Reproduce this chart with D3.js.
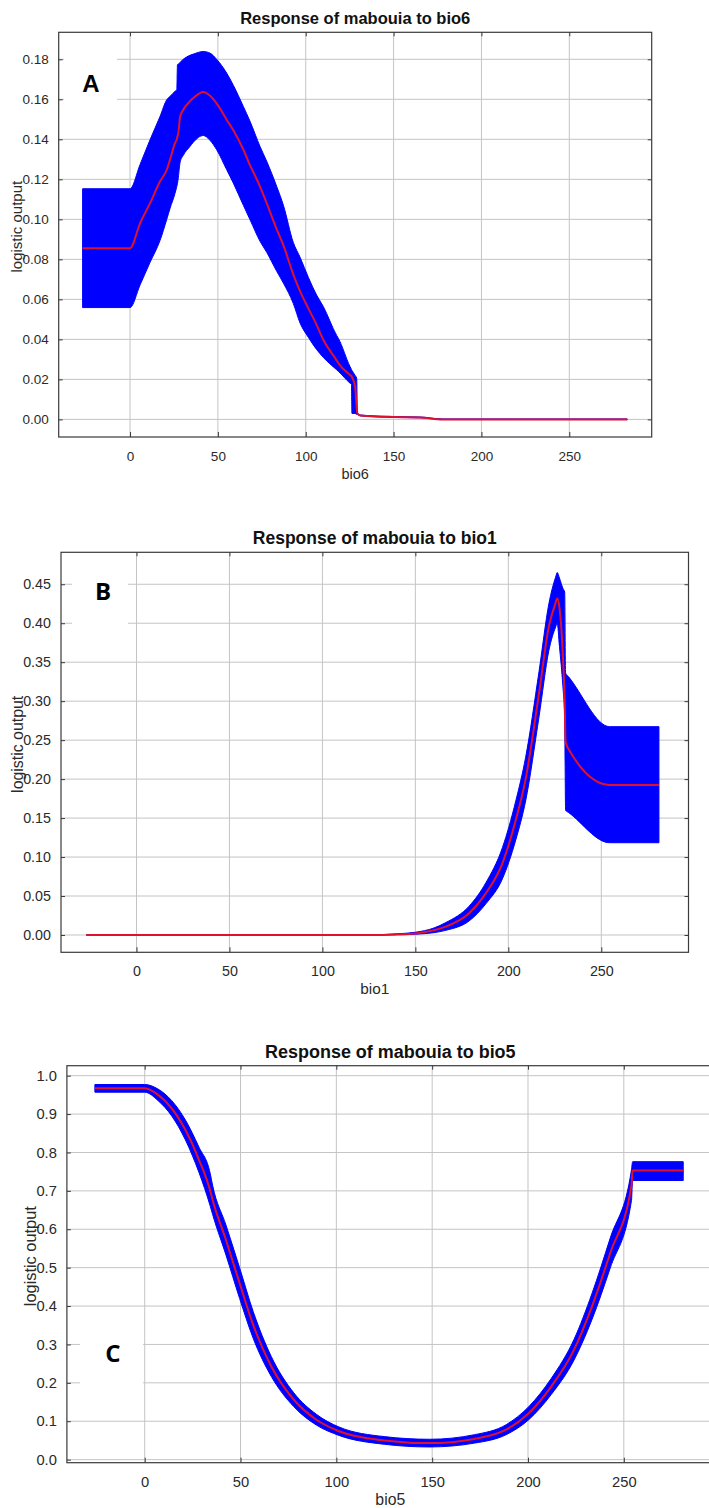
<!DOCTYPE html>
<html>
<head>
<meta charset="utf-8">
<script src="https://cdn.jsdelivr.net/npm/d3@7"></script>
<style>
  body { margin: 0; background: #fff; }
  svg { display: block; }
</style>
</head>
<body>
<div id="chart"></div>
<script>
// shared x ticks
const xTicks = [0, 50, 100, 150, 200, 250];

// panel A : bio6
const bio6X    = [-27, 0, 5.7, 11.4, 17.1, 20.9, 22.8, 25.6, 26.6, 27.0, 27.5, 28.5, 30.3, 34.1, 36, 41.7, 45.5, 49.3, 55, 58.8, 64.5, 68.3, 74, 77.8, 83.5, 87.3, 92.9, 96.8, 101.5, 106.3, 110, 117.6, 118.6, 125.2, 126.0, 126.3, 128.1, 129, 129.4, 131, 150, 165, 178, 220, 283];
const bio6Mean = [0.0856, 0.0856, 0.098, 0.1081, 0.119, 0.1248, 0.130, 0.1381, 0.140, 0.1415, 0.1431, 0.1514, 0.1548, 0.159, 0.1606, 0.1636, 0.1618, 0.158, 0.1498, 0.1445, 0.1348, 0.127, 0.1164, 0.108, 0.095, 0.087, 0.0725, 0.064, 0.0555, 0.047, 0.0398, 0.0295, 0.0281, 0.0222, 0.0216, 0.0212, 0.0164, 0.006, 0.003, 0.002, 0.0012, 0.001, 0, 0, 0];
const bio6Lo   = [0.0559, 0.0559, 0.0672, 0.0785, 0.0895, 0.100, 0.1056, 0.113, 0.1164, 0.118, 0.121, 0.1285, 0.132, 0.1364, 0.1385, 0.1419, 0.1395, 0.1348, 0.1248, 0.1181, 0.107, 0.0998, 0.089, 0.0835, 0.074, 0.0681, 0.058, 0.0481, 0.041, 0.0348, 0.031, 0.0248, 0.024, 0.0181, 0.0175, 0.003, 0.003, 0.0025, 0.0025, 0.0018, 0.001, 0.0008, 0, 0, 0];
const bio6Hi   = [0.1153, 0.1153, 0.1274, 0.1398, 0.1515, 0.1598, 0.1615, 0.164, 0.1648, 0.1773, 0.1776, 0.1785, 0.180, 0.182, 0.1826, 0.1839, 0.1831, 0.180, 0.1731, 0.167, 0.1564, 0.149, 0.1364, 0.129, 0.1164, 0.107, 0.0885, 0.081, 0.071, 0.062, 0.0564, 0.042, 0.0405, 0.0264, 0.025, 0.0245, 0.022, 0.0206, 0.003, 0.0022, 0.0014, 0.0012, 0.0002, 0.0002, 0.0002];
const bio6YTicks = [0, 0.02, 0.04, 0.06, 0.08, 0.10, 0.12, 0.14, 0.16, 0.18];

// panel B : bio1
const bio1X    = [-27, 100, 128, 140, 150, 160, 166.4, 178.9, 187.9, 196.8, 204, 209.3, 216.5, 221.8, 225.4, 226.3, 227.5, 229.3, 230.3, 230.8, 232.5, 254.5, 281];
const bio1Mean = [0, 0, 0, 0.0008, 0.002, 0.006, 0.0107, 0.0278, 0.0535, 0.092, 0.1476, 0.20, 0.31, 0.396, 0.426, 0.432, 0.42, 0.36, 0.30, 0.248, 0.238, 0.1925, 0.1925];
const bio1Lo   = [0, 0, 0, 0.0003, 0.001, 0.003, 0.006, 0.018, 0.040, 0.072, 0.122, 0.172, 0.28, 0.365, 0.395, 0.40, 0.37, 0.32, 0.28, 0.160, 0.157, 0.1184, 0.1184];
const bio1Hi   = [0, 0, 0.0003, 0.0015, 0.0035, 0.009, 0.016, 0.037, 0.067, 0.112, 0.172, 0.228, 0.338, 0.425, 0.459, 0.465, 0.458, 0.445, 0.44, 0.336, 0.331, 0.2673, 0.2673];
const bio1YTicks = [0, 0.05, 0.10, 0.15, 0.20, 0.25, 0.30, 0.35, 0.40, 0.45];

// panel C : bio5
const bio5X    = [-26, 0, 7, 14.1, 21.2, 28.3, 34.2, 35.4, 42.4, 49.5, 56.6, 66, 77.8, 89.6, 101.4, 125, 148.6, 172.1, 188.6, 200.4, 212.2, 224, 233.4, 242.9, 254, 254.6, 281];
const bio5Mean = [0.967, 0.967, 0.95, 0.915, 0.859, 0.781, 0.700, 0.677, 0.572, 0.46, 0.351, 0.243, 0.156, 0.104, 0.074, 0.050, 0.043, 0.054, 0.078, 0.121, 0.191, 0.286, 0.399, 0.538, 0.715, 0.753, 0.753];
const bio5Lo   = [0.957, 0.957, 0.935, 0.895, 0.833, 0.748, 0.660, 0.639, 0.533, 0.420, 0.316, 0.217, 0.138, 0.090, 0.063, 0.040, 0.033, 0.043, 0.065, 0.104, 0.170, 0.259, 0.365, 0.499, 0.675, 0.727, 0.727];
const bio5Hi   = [0.977, 0.977, 0.965, 0.935, 0.885, 0.814, 0.745, 0.715, 0.611, 0.500, 0.386, 0.269, 0.174, 0.118, 0.085, 0.060, 0.053, 0.065, 0.091, 0.138, 0.212, 0.313, 0.433, 0.577, 0.755, 0.776, 0.776];
const bio5YTicks = [0, 0.1, 0.2, 0.3, 0.4, 0.5, 0.6, 0.7, 0.8, 0.9, 1.0];

const W = 709, H = 1508;
const svg = d3.select('#chart').append('svg')
    .attr('width', W)
    .attr('height', H);

svg.append('rect').attr('width', W).attr('height', H).attr('fill', '#fff');

const panels = [
  {id: 'a', title: 'Response of mabouia to bio6', xLabel: 'bio6', letter: 'A', letterFont: 'Liberation Sans, Arial, sans-serif',
   xs: bio6X, mean: bio6Mean, lo: bio6Lo, hi: bio6Hi, yTicks: bio6YTicks, yFmt: '.2f',
   yDomain: [-0.0088, 0.1935], left: 58.7, right: 651.7, top: 32.3, bottom: 437, fs: 1,
   box: [64, 53, 53, 48], letterX: 91, letterY: 92, yLabelX: 22},
  {id: 'b', title: 'Response of mabouia to bio1', xLabel: 'bio1', letter: 'B', letterFont: 'Open Sans, sans-serif',
   xs: bio1X, mean: bio1Mean, lo: bio1Lo, hi: bio1Hi, yTicks: bio1YTicks, yFmt: '.2f',
   yDomain: [-0.0222, 0.491], left: 61, right: 688.5, top: 552.3, bottom: 952.3, fs: 1.06,
   box: [72, 556, 56, 70], letterX: 103, letterY: 600, yLabelX: 23},
  {id: 'c', title: 'Response of mabouia to bio5', xLabel: 'bio5', letter: 'C', letterFont: 'Open Sans, sans-serif',
   xs: bio5X, mean: bio5Mean, lo: bio5Lo, hi: bio5Hi, yTicks: bio5YTicks, yFmt: '.1f',
   yDomain: [-0.008, 1.026], left: 66.9, right: 713.7, top: 1065.7, bottom: 1462.7, fs: 1.09,
   box: [80, 1322, 63, 63], letterX: 113, letterY: 1362, yLabelX: 36}
];

const xDomain = [-40.6, 296.9];
const font = 'Liberation Sans, Arial, sans-serif';

panels.forEach((p) => {
  const x = d3.scaleLinear().domain(xDomain).range([p.left, p.right]);
  const y = d3.scaleLinear().domain(p.yDomain).range([p.bottom, p.top]);
  const pts = p.xs.map((v, i) => ({x: v, m: p.mean[i], lo: p.lo[i], hi: p.hi[i]}));
  const g = svg.append('g');

  g.append('clipPath').attr('id', 'clip-' + p.id)
    .append('rect')
    .attr('x', p.left).attr('y', p.top)
    .attr('width', p.right - p.left).attr('height', p.bottom - p.top);

  // grid
  g.selectAll('.vg').data(xTicks).enter().append('line')
    .attr('x1', (d) => x(d)).attr('x2', (d) => x(d))
    .attr('y1', p.top).attr('y2', p.bottom)
    .attr('stroke', '#c4c4c4').attr('stroke-width', 1);
  g.selectAll('.hg').data(p.yTicks).enter().append('line')
    .attr('x1', p.left).attr('x2', p.right)
    .attr('y1', (d) => y(d)).attr('y2', (d) => y(d))
    .attr('stroke', '#c4c4c4').attr('stroke-width', 1);

  // white box behind the panel letter
  g.append('rect')
    .attr('x', p.box[0]).attr('y', p.box[1])
    .attr('width', p.box[2]).attr('height', p.box[3])
    .attr('fill', '#fff');

  const plot = g.append('g').attr('clip-path', 'url(#clip-' + p.id + ')');

  const band = d3.area()
    .curve(d3.curveMonotoneX)
    .x((d) => x(d.x))
    .y0((d) => y(d.lo))
    .y1((d) => y(d.hi));
  plot.append('path').datum(pts)
    .attr('d', band)
    .attr('fill', '#0000ff')
    .attr('stroke', '#0000ff')
    .attr('stroke-width', 1);

  const line = d3.line().curve(d3.curveMonotoneX).x((d) => x(d.x)).y((d) => y(d.m));
  plot.append('path').datum(pts)
    .attr('d', line)
    .attr('fill', 'none')
    .attr('stroke', '#e0102f')
    .attr('stroke-width', 2);

  // frame
  g.append('rect')
    .attr('x', p.left).attr('y', p.top)
    .attr('width', p.right - p.left).attr('height', p.bottom - p.top)
    .attr('fill', 'none').attr('stroke', '#3a3a3a').attr('stroke-width', 1.2);

  // axes (ticks point inwards, labels outside)
  const yAxis = d3.axisLeft(y).tickValues(p.yTicks).tickFormat(d3.format(p.yFmt))
    .tickSizeInner(-4).tickSizeOuter(0).tickPadding(10);
  const ya = g.append('g').attr('transform', `translate(${p.left},0)`).call(yAxis);
  const xAxis = d3.axisBottom(x).tickValues(xTicks).tickFormat(d3.format('d'))
    .tickSizeInner(-5).tickSizeOuter(0).tickPadding(14);
  const xa = g.append('g').attr('transform', `translate(0,${p.bottom})`).call(xAxis);
  const yr = g.append('g').attr('transform', `translate(${p.right},0)`)
    .call(d3.axisRight(y).tickValues(p.yTicks).tickSize(-4).tickFormat(''));
  const xt = g.append('g').attr('transform', `translate(0,${p.top})`)
    .call(d3.axisTop(x).tickValues(xTicks).tickSize(-4).tickFormat(''));
  [ya, xa, yr, xt].forEach((a) => {
    a.select('.domain').remove();
    a.selectAll('line').attr('stroke', '#3a3a3a');
    a.selectAll('text').attr('fill', '#2a2a2a')
      .style('font-family', font).style('font-size', (13.5 * p.fs) + 'px');
  });

  // texts
  g.append('text')
    .attr('x', (p.left + p.right) / 2).attr('y', p.top - 8)
    .attr('text-anchor', 'middle')
    .style('font-family', font).style('font-size', (16.5 * p.fs) + 'px').style('font-weight', 'bold')
    .attr('fill', '#111')
    .text(p.title);
  g.append('text')
    .attr('x', (p.left + p.right) / 2).attr('y', p.bottom + 42)
    .attr('text-anchor', 'middle')
    .style('font-family', font).style('font-size', (14.5 * p.fs) + 'px')
    .attr('fill', '#2a2a2a')
    .text(p.xLabel);
  g.append('text')
    .attr('transform', `translate(${p.yLabelX},${(p.top + p.bottom) / 2 - 8}) rotate(-90)`)
    .attr('text-anchor', 'middle')
    .style('font-family', font).style('font-size', (15 * p.fs) + 'px')
    .attr('fill', '#2a2a2a')
    .text('logistic output');
  g.append('text')
    .attr('x', p.letterX).attr('y', p.letterY)
    .attr('text-anchor', 'middle')
    .style('font-family', p.letterFont).style('font-size', '24px').style('font-weight', 'bold')
    .attr('fill', '#000')
    .text(p.letter);
});
</script>
</body>
</html>
